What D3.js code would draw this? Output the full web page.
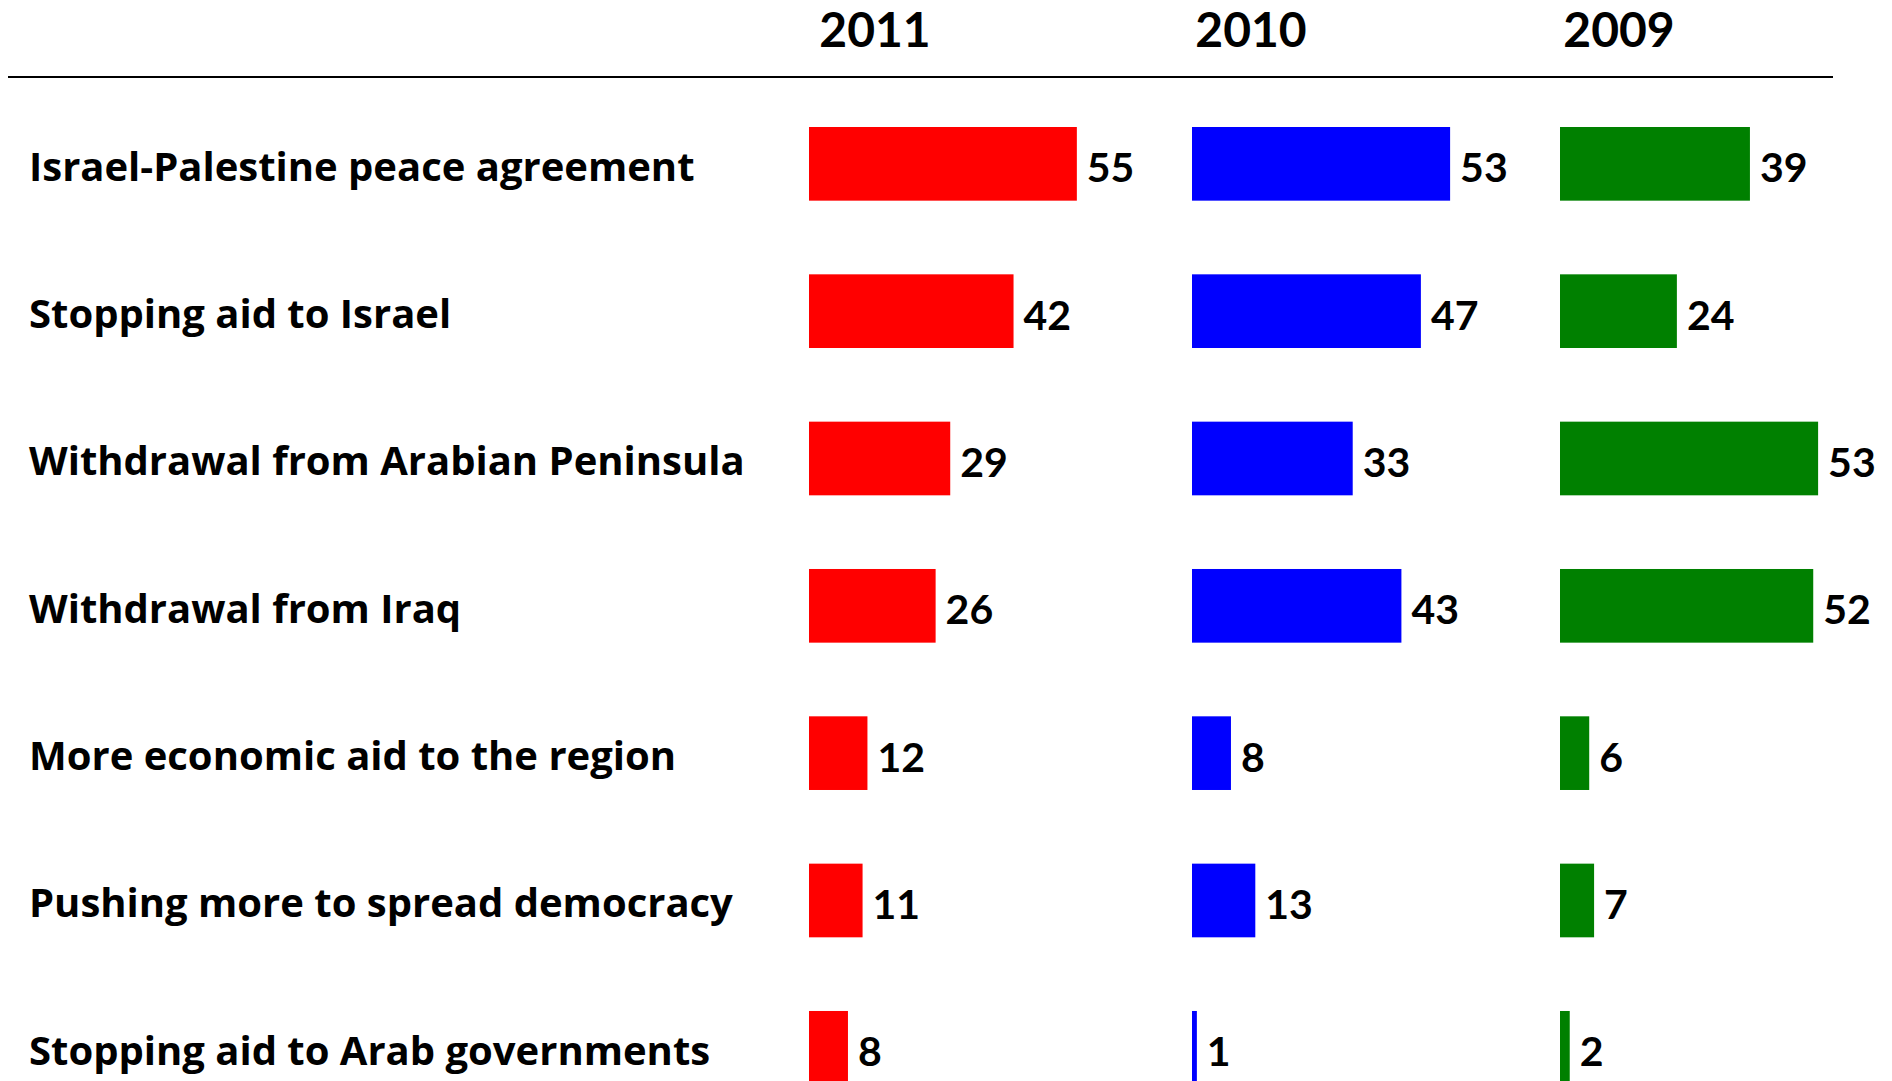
<!DOCTYPE html>
<html>
<head>
<meta charset="utf-8">
<script src="https://cdn.jsdelivr.net/npm/d3@7"></script>
<style>
  html, body { margin: 0; padding: 0; background: #ffffff; }
  svg { display: block; }
  text { font-family: Lato, "Noto Sans", sans-serif; font-weight: 700; fill: #000; }
  text.cat { font-family: "Open Sans", Lato, sans-serif; }
</style>
</head>
<body>
<svg id="chart" width="1892" height="1081"></svg>
<script>
// ---- data ----
const categories = [
  "Israel-Palestine peace agreement",
  "Stopping aid to Israel",
  "Withdrawal from Arabian Peninsula",
  "Withdrawal from Iraq",
  "More economic aid to the region",
  "Pushing more to spread democracy",
  "Stopping aid to Arab governments"
];
const years = ["2011", "2010", "2009"];
const values2011 = [55, 42, 29, 26, 12, 11, 8];
const values2010 = [53, 47, 33, 43, 8, 13, 1];
const values2009 = [39, 24, 53, 52, 6, 7, 2];
const seriesColors = ["#ff0000", "#0000ff", "#008000"];

// ---- layout ----
const W = 1892, H = 1081;
const svg = d3.select("#chart");

const series = [values2011, values2010, values2009];
const colStart = d3.scaleOrdinal().domain(years).range([809, 1192, 1560]);
const headerX = d3.scaleOrdinal().domain(years).range([875, 1251, 1619]);
const color = d3.scaleOrdinal().domain(years).range(seriesColors);

const y = d3.scaleBand()
  .domain(categories)
  .range([127, 127 + 147.33 * 6.5])
  .paddingInner(0.5)
  .paddingOuter(0);

const x = d3.scaleLinear().domain([0, 100]).range([0, 487]);

// header rule
svg.append("line")
  .attr("x1", 8).attr("x2", 1833)
  .attr("y1", 77).attr("y2", 77)
  .attr("stroke", "#000").attr("stroke-width", 2);

// year headers
svg.selectAll("text.year")
  .data(years)
  .join("text")
  .attr("class", "year")
  .attr("x", d => headerX(d))
  .attr("y", 47)
  .attr("text-anchor", "middle")
  .style("font-size", "48px")
  .text(d => d);

// category labels
svg.selectAll("text.cat")
  .data(categories)
  .join("text")
  .attr("class", "cat")
  .attr("x", 29)
  .attr("y", d => y(d) + y.bandwidth() / 2 + 17)
  .style("font-size", "40px")
  .text(d => d);

// bars + value labels per year
years.forEach((yr, si) => {
  const rows = categories.map((c, i) => ({ cat: c, v: series[si][i] }));
  const g = svg.append("g").attr("transform", `translate(${colStart(yr)},0)`);
  g.selectAll("rect")
    .data(rows)
    .join("rect")
    .attr("x", 0)
    .attr("y", d => y(d.cat))
    .attr("width", d => x(d.v))
    .attr("height", y.bandwidth())
    .attr("fill", color(yr));
  g.selectAll("text")
    .data(rows)
    .join("text")
    .attr("x", d => x(d.v) + 10)
    .attr("y", d => y(d.cat) + y.bandwidth() / 2 + 18.5)
    .style("font-size", "41px")
    .text(d => d.v);
});
</script>
</body>
</html>
